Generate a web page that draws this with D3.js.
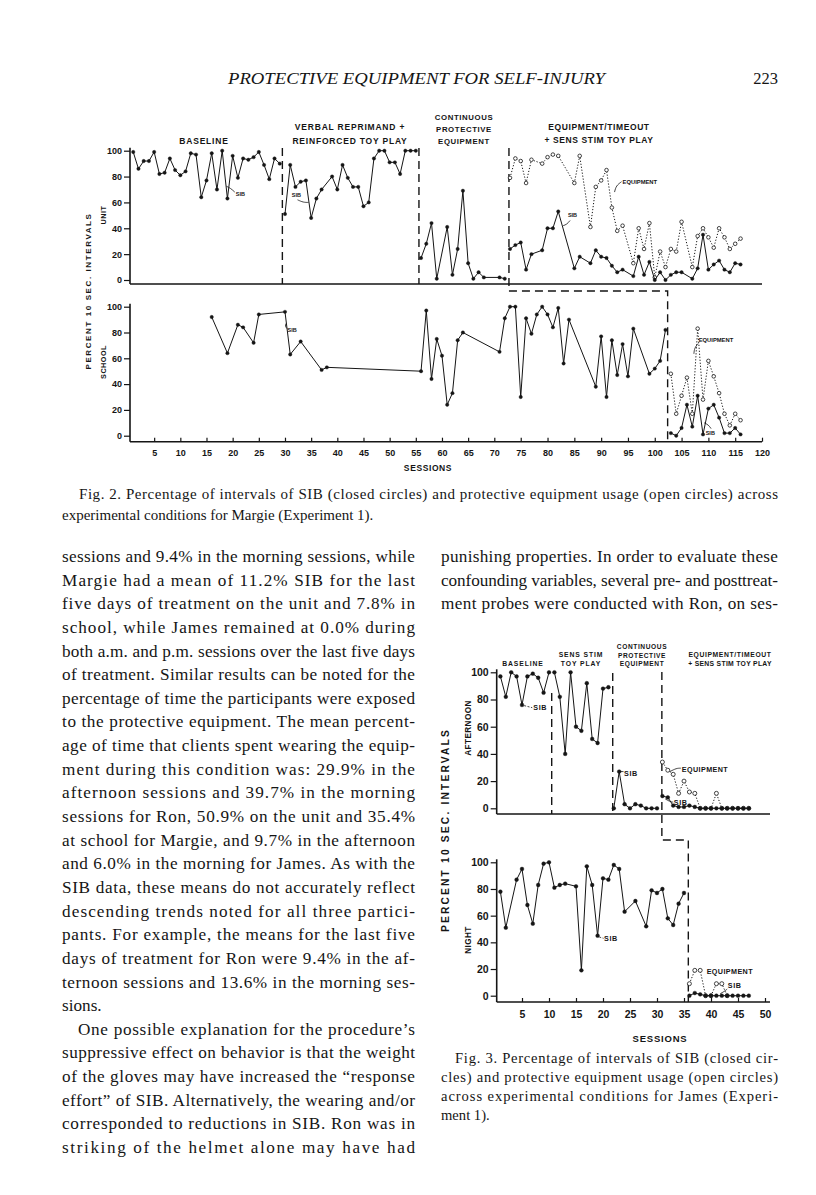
<!DOCTYPE html>
<html lang="en">
<head>
<meta charset="UTF-8">
<title>Protective Equipment for Self-Injury</title>
<script src="https://d3js.org/d3.v7.min.js"></script>
<style>
  body { margin: 0; background: #fff; }
  svg { display: block; background: #fff; }
  .lbl { font-family: "Liberation Sans", Arial, sans-serif; font-weight: bold; fill: #151515; }
  .serif { font-family: "Liberation Serif", "DejaVu Serif", serif; fill: #151515; }
  .axis path { display: none; }
  .axis line { stroke: #151515; stroke-width: 1.2; }
  .axis text { font-family: "Liberation Sans", Arial, sans-serif; font-weight: bold; fill: #151515; }
  .base { stroke: #151515; stroke-width: 1.6; }
  .phase { stroke: #151515; stroke-width: 1.4; stroke-dasharray: 8,5; fill: none; }
  .sib { stroke: #151515; stroke-width: 1; fill: none; }
  .equip { stroke: #151515; stroke-width: 1; stroke-dasharray: 1.2,1.8; fill: none; }
  .ann { stroke: #151515; stroke-width: 0.8; fill: none; }
</style>
</head>
<body>
<svg id="page" width="816" height="1195"></svg>
<script>
// ---- Fig. 2 (Margie): [session, percent]
const unitSIB = [[1,99],[2,86],[3,92],[4,92],[5,99],[6,82],[7,83],[8,94],[9,85],[10,81],[11,84],[12,98],[13,97],[14,64],[15,77],[16,98],[17,70],[18,100],[19,63],[20,96],[21,79],[22,94],[23,93],[24,95],[25,99],[26,89],[27,78],[28,94],[29,90],
  [30,51],[31,89],[32,72],[33,76],[34,77],[35,48],[36,63],[37,70],[39,80],[40,70],[41,89],[42,79],[43,72],[44,72],[45,57],[46,60],[47,94],[48,100],[49,100],[50,91],[51,91],[52,82],[53,100],[54,100],[55,100],
  [56,17],[57,28],[58,44],[59,1],[61,41],[62,4],[63,24],[64,69],[65,13],[66,1],[67,6],[68,2],[71,2],[72,1],
  [73,24],[74,27],[75,29],[76,8],[77,20],[79,23],[80,40],[81,40],[82,53],[85,9],[86,18],[88,13],[89,23],[90,18],[91,17],[92,11],[93,6],[94,8],[96,3],[97,18],[98,4],[99,14],[100,0],[101,6],[102,0],[103,4],[104,6],[105,6],[107,1],[108,9],[109,35],[110,8],[111,12],[112,15],[113,8],[114,6],[115,13],[116,12]];
const unitEquip = [[73,79],[74,94],[75,92],[76,75],[77,93],[79,90],[80,95],[81,97],[82,96],[85,75],[86,96],[88,41],[89,72],[90,77],[91,85],[92,56],[93,38],[94,42],[96,13],[97,40],[98,24],[99,44],[100,2],[101,22],[102,10],[103,24],[104,22],[105,45],[107,10],[108,34],[109,40],[110,33],[111,25],[112,40],[113,33],[114,24],[115,28],[116,32]];
const schoolSIB = [[16,92],[19,64],[21,86],[22,84],[24,72],[25,94],[30,96],[31,63],[33,73],[37,51],[38,53],[56,50],[57,97],[58,44],[59,75],[60,62],[61,24],[62,33],[63,74],[64,80],[71,65],[72,91],[73,100],[74,100],[75,30],[76,91],[77,79],[78,94],[79,100],[80,94],[81,84],[82,99],[83,56],[84,90],[89,38],[90,77],[91,30],[92,74],[93,47],[94,71],[95,46],[96,83],[99,48],[100,52],[101,58],[102,82],
  [103,2],[104,0],[105,6],[106,24],[107,7],[108,31],[109,1],[110,21],[111,24],[112,14],[113,2],[114,2],[115,6],[116,1]];
const schoolEquip = [[103,48],[104,17],[105,31],[106,45],[107,17],[108,83],[109,28],[110,58],[111,46],[112,33],[113,17],[114,8],[115,17],[116,12]];
const unitBreaks = [29.5, 55.6, 72.8];
const schoolBreaks = [102.4];
const fig2XTicks = d3.range(5, 121, 5);

// ---- Fig. 3 (James)
const pmSIB = [[1,97],[2,82],[3,100],[4,97],[5,76],[6,97],[7,99],[8,96],[9,85],[10,100],
  [11,100],[12,82],[13,40],[14,100],[15,60],[16,57],[17,92],[18,51],[19,48],[20,88],[21,89],
  [22,0],[23,27],[24,3],[25,0],[26,3],[27,2],[28,0],[29,0],[30,0],
  [31,9],[32,8],[33,2],[34,1],[35,1],[36,2],[37,1],[38,0],[39,0],[40,0],[41,0],[42,0],[43,0],[44,0],[45,0],[46,0],[47,0]];
const pmEquip = [[31,34],[32,28],[33,25],[34,11],[35,20],[36,12],[37,11],[38,0],[39,0],[40,0],[41,11],[42,0],[43,0],[44,0],[45,0],[46,0],[47,0]];
const nightSIB = [[1,78],[2,51],[4,87],[5,95],[6,68],[7,54],[8,83],[9,99],[10,100],[11,81],[12,83],[13,84],[15,82],[16,19],[17,97],[18,83],[19,45],[20,88],[21,87],[22,98],[23,95],[24,63],[26,71],[28,52],[29,79],[30,77],[31,80],[32,58],[33,53],[34,69],[35,77],
  [36,0],[37,2],[38,1],[39,0],[40,0],[41,0],[42,0],[43,0],[44,0],[45,0],[46,0],[47,0]];
const nightEquip = [[36,9],[37,19],[38,19],[39,0],[40,0],[41,9],[42,9],[43,0]];
const pmBreaks = [10.5, 21.8, 30.9];
const nightBreaks = [35.8];
const fig3XTicks = d3.range(5, 51, 5);
const yTicks = [0, 20, 40, 60, 80, 100];

// ---- page text
const leftLines = [
  "sessions and 9.4% in the morning sessions, while",
  "Margie had a mean of 11.2% SIB for the last",
  "five days of treatment on the unit and 7.8% in",
  "school, while James remained at 0.0% during",
  "both a.m. and p.m. sessions over the last five days",
  "of treatment. Similar results can be noted for the",
  "percentage of time the participants were exposed",
  "to the protective equipment. The mean percent-",
  "age of time that clients spent wearing the equip-",
  "ment during this condition was: 29.9% in the",
  "afternoon sessions and 39.7% in the morning",
  "sessions for Ron, 50.9% on the unit and 35.4%",
  "at school for Margie, and 9.7% in the afternoon",
  "and 6.0% in the morning for James. As with the",
  "SIB data, these means do not accurately reflect",
  "descending trends noted for all three partici-",
  "pants. For example, the means for the last five",
  "days of treatment for Ron were 9.4% in the af-",
  "ternoon sessions and 13.6% in the morning ses-",
  "sions.",
  "One possible explanation for the procedure\u2019s",
  "suppressive effect on behavior is that the weight",
  "of the gloves may have increased the \u201cresponse",
  "effort\u201d of SIB. Alternatively, the wearing and/or",
  "corresponded to reductions in SIB. Ron was in",
  "striking of the helmet alone may have had"
];
const rightLines = [
  "punishing properties. In order to evaluate these",
  "confounding variables, several pre- and posttreat-",
  "ment probes were conducted with Ron, on ses-"
];
const cap2Lines = [
  "Fig. 2. Percentage of intervals of SIB (closed circles) and protective equipment usage (open circles) across",
  "experimental conditions for Margie (Experiment 1)."
];
const cap3Lines = [
  "Fig. 3. Percentage of intervals of SIB (closed cir-",
  "cles) and protective equipment usage (open circles)",
  "across experimental conditions for James (Experi-",
  "ment 1)."
];

const svg = d3.select("#page");

// header
svg.append("text").attr("class", "serif").attr("x", 228).attr("y", 84)
  .attr("font-size", 16.5).attr("font-style", "italic")
  .attr("textLength", 377).attr("lengthAdjust", "spacingAndGlyphs")
  .text("PROTECTIVE EQUIPMENT FOR SELF-INJURY");
svg.append("text").attr("class", "serif").attr("x", 778).attr("y", 84)
  .attr("font-size", 16.5).attr("text-anchor", "end").text("223");

function textBlock(lines, x0, width, y0, step, size, opts) {
  const g = svg.append("g");
  lines.forEach((t, i) => {
    const indent = (opts.indent || []).includes(i) ? opts.indentSize : 0;
    const el = g.append("text").attr("class", "serif")
      .attr("x", x0 + indent).attr("y", y0 + i * step)
      .attr("font-size", size).text(t);
    if (!(opts.ragged || []).includes(i)) {
      el.attr("textLength", width - indent).attr("lengthAdjust", "spacing");
    }
  });
}
textBlock(leftLines, 62, 353, 562, 23.64, 17.2, { ragged: [19], indent: [20], indentSize: 16 });
textBlock(rightLines, 441, 337, 562, 23.64, 17.2, {});
textBlock(cap2Lines, 62, 716, 499, 20.5, 15, { ragged: [1], indent: [0], indentSize: 17 });
textBlock(cap3Lines, 441, 337, 1063, 19, 14.6, { ragged: [3], indent: [0], indentSize: 14 });

// ---- helpers
function phaseOf(s, breaks) { return breaks.filter(b => s > b).length; }

function drawSeries(g, data, breaks, x, y, kind, r) {
  const groups = d3.groups(data, d => phaseOf(d[0], breaks));
  const line = d3.line().x(d => x(d[0])).y(d => y(d[1]));
  groups.forEach(([, pts]) => {
    g.append("path").attr("class", kind === "closed" ? "sib" : "equip").attr("d", line(pts));
  });
  g.selectAll(null).data(data).enter().append("circle")
    .attr("cx", d => x(d[0])).attr("cy", d => y(d[1]))
    .attr("r", r)
    .attr("fill", kind === "closed" ? "#151515" : "#fff")
    .attr("stroke", "#151515").attr("stroke-width", kind === "closed" ? 0.4 : 0.8);
}

function yAxis(g, y, xPos, size) {
  g.append("g").attr("class", "axis").attr("transform", `translate(${xPos},0)`)
    .call(d3.axisLeft(y).tickValues(yTicks).tickSize(6).tickPadding(2))
    .selectAll("text").attr("font-size", size);
}

function rotLabel(x, y, text, size, spacing) {
  svg.append("text").attr("class", "lbl")
    .attr("transform", `translate(${x},${y}) rotate(-90)`)
    .attr("text-anchor", "middle").attr("dominant-baseline", "central")
    .attr("font-size", size).attr("letter-spacing", spacing || 0).text(text);
}

function label(x, y, text, size, anchor, spacing) {
  svg.append("text").attr("class", "lbl").attr("x", x).attr("y", y)
    .attr("text-anchor", anchor || "start").attr("font-size", size)
    .attr("letter-spacing", spacing || 0).text(text);
}

function arrow(pts, dashed) {
  svg.append("path").attr("class", "ann")
    .attr("stroke-dasharray", dashed ? "2,1.5" : null)
    .attr("d", d3.line().curve(d3.curveBasis)(pts));
}

// ======== Fig. 2 ========
const x2 = d3.scaleLinear().domain([0, 73, 120]).range([128, 510, 762]);
const yUnit = d3.scaleLinear().domain([0, 100]).range([280, 150.7]);
const ySchool = d3.scaleLinear().domain([0, 100]).range([435.7, 306.7]);
const f2 = svg.append("g");

f2.append("line").attr("class", "base").attr("x1", 130).attr("x2", 130).attr("y1", yUnit(100) - 3).attr("y2", 284);
f2.append("line").attr("class", "base").attr("x1", 130).attr("x2", 762).attr("y1", 284).attr("y2", 284);
f2.append("line").attr("class", "base").attr("x1", 130).attr("x2", 130).attr("y1", ySchool(100) - 3).attr("y2", 441.7);
f2.append("line").attr("class", "base").attr("x1", 130).attr("x2", 762).attr("y1", 441.7).attr("y2", 441.7);
yAxis(f2, yUnit, 130, 9);
yAxis(f2, ySchool, 130, 9);
f2.append("g").attr("class", "axis").attr("transform", "translate(0,441.7)")
  .call(d3.axisBottom(x2).tickValues(fig2XTicks).tickSize(-4).tickPadding(8))
  .selectAll("text").attr("font-size", 9);
label(428, 471, "SESSIONS", 8.5, "middle", 0.6);

const ph = d3.path();
ph.moveTo(x2(unitBreaks[0]), 148); ph.lineTo(x2(unitBreaks[0]), 284);
ph.moveTo(x2(unitBreaks[1]), 148); ph.lineTo(x2(unitBreaks[1]), 284);
ph.moveTo(x2(unitBreaks[2]), 148); ph.lineTo(x2(unitBreaks[2]), 291);
ph.lineTo(x2(schoolBreaks[0]), 291); ph.lineTo(x2(schoolBreaks[0]), 441.7);
f2.append("path").attr("class", "phase").attr("d", ph.toString());

drawSeries(f2, unitEquip, unitBreaks, x2, yUnit, "open", 1.8);
drawSeries(f2, unitSIB, unitBreaks, x2, yUnit, "closed", 1.7);
drawSeries(f2, schoolEquip, schoolBreaks, x2, ySchool, "open", 1.8);
drawSeries(f2, schoolSIB, schoolBreaks, x2, ySchool, "closed", 1.7);

label(204, 144, "BASELINE", 8.5, "middle", 0.8);
label(350, 130, "VERBAL REPRIMAND  +", 8.5, "middle", 0.8);
label(350, 144, "REINFORCED TOY PLAY", 8.5, "middle", 0.8);
label(464, 120, "CONTINUOUS", 7.8, "middle", 0.6);
label(464, 132, "PROTECTIVE", 7.8, "middle", 0.6);
label(464, 144, "EQUIPMENT", 7.8, "middle", 0.6);
label(599, 130, "EQUIPMENT/TIMEOUT", 8.5, "middle", 0.6);
label(599, 143, "+ SENS STIM TOY PLAY", 8.5, "middle", 0.6);

rotLabel(88, 291, "PERCENT  10  SEC.  INTERVALS", 8, 1.6);
rotLabel(103, 215, "UNIT", 7.2, 0.5);
rotLabel(103, 362, "SCHOOL", 7.2, 0.5);

label(x2(20.6), yUnit(65), "SIB", 5.5);
arrow([[x2(20.4), yUnit(68)], [x2(19.6), yUnit(71)], [x2(18.8), yUnit(72.5)]]);
label(x2(31.3), yUnit(64.5), "SIB", 5.5);
arrow([[x2(32.4), yUnit(62)], [x2(33.5), yUnit(60)], [x2(34.5), yUnit(60)]]);
label(x2(83.8), yUnit(49), "SIB", 5.5);
arrow([[x2(84.2), yUnit(46)], [x2(83.6), yUnit(43)], [x2(82.9), yUnit(42)]]);
label(x2(94), yUnit(74.5), "EQUIPMENT", 5.8);
arrow([[x2(93.8), yUnit(76)], [x2(92.8), yUnit(73)], [x2(92.5), yUnit(68)]]);
label(x2(30.5), ySchool(80.2), "SIB", 5.5);
arrow([[x2(30.4), ySchool(83)], [x2(30), ySchool(85)], [x2(30.2), ySchool(87)]]);
label(x2(108.2), ySchool(73), "EQUIPMENT", 5.8);
arrow([[x2(108.1), ySchool(71.5)], [x2(107.4), ySchool(68)], [x2(107.3), ySchool(63.5)]]);
label(x2(109.5), ySchool(0.8), "SIB", 5.5);
arrow([[x2(110.5), ySchool(5.5)], [x2(110), ySchool(8.5)], [x2(109.2), ySchool(10)]]);

// ======== Fig. 3 ========
const x3 = d3.scaleLinear().domain([0, 50]).range([495, 765]);
const yPm = d3.scaleLinear().domain([0, 100]).range([808.3, 672.3]);
const yNight = d3.scaleLinear().domain([0, 100]).range([995.7, 862.3]);
const f3 = svg.append("g");

f3.append("line").attr("class", "base").attr("x1", 496.7).attr("x2", 496.7).attr("y1", yPm(100) - 3).attr("y2", 814);
f3.append("line").attr("class", "base").attr("x1", 496.7).attr("x2", 770).attr("y1", 814).attr("y2", 814);
f3.append("line").attr("class", "base").attr("x1", 496.7).attr("x2", 496.7).attr("y1", yNight(100) - 3).attr("y2", 1002);
f3.append("line").attr("class", "base").attr("x1", 496.7).attr("x2", 770).attr("y1", 1002).attr("y2", 1002);
yAxis(f3, yPm, 496.7, 10.5);
yAxis(f3, yNight, 496.7, 10.5);
f3.append("g").attr("class", "axis").attr("transform", "translate(0,1002)")
  .call(d3.axisBottom(x3).tickValues(fig3XTicks).tickSize(-4).tickPadding(9))
  .selectAll("text").attr("font-size", 10.5);
label(660, 1042, "SESSIONS", 9.5, "middle", 0.8);

const ph3 = d3.path();
ph3.moveTo(x3(pmBreaks[0]), 693); ph3.lineTo(x3(pmBreaks[0]), 814);
ph3.moveTo(x3(pmBreaks[1]), 673); ph3.lineTo(x3(pmBreaks[1]), 814);
ph3.moveTo(x3(pmBreaks[2]), 672); ph3.lineTo(x3(pmBreaks[2]), 840);
ph3.lineTo(x3(nightBreaks[0]), 840); ph3.lineTo(x3(nightBreaks[0]), 1002);
f3.append("path").attr("class", "phase").attr("stroke-width", 1.8).attr("d", ph3.toString());

drawSeries(f3, pmEquip, pmBreaks, x3, yPm, "open", 2);
drawSeries(f3, pmSIB, pmBreaks, x3, yPm, "closed", 1.9);
drawSeries(f3, nightEquip, nightBreaks, x3, yNight, "open", 2);
drawSeries(f3, nightSIB, nightBreaks, x3, yNight, "closed", 1.9);

label(523, 666, "BASELINE", 6.8, "middle", 0.9);
label(581, 657, "SENS STIM", 6.8, "middle", 0.9);
label(581, 666, "TOY PLAY", 6.8, "middle", 0.9);
label(642, 649, "CONTINUOUS", 6.6, "middle", 0.6);
label(642, 657.5, "PROTECTIVE", 6.6, "middle", 0.6);
label(642, 666, "EQUIPMENT", 6.6, "middle", 0.6);
label(730, 657, "EQUIPMENT/TIMEOUT", 6.8, "middle", 0.6);
label(730, 666, "+   SENS STIM TOY PLAY", 6.8, "middle", 0.3);

rotLabel(445, 830, "PERCENT  10  SEC.  INTERVALS", 10.2, 2.2);
rotLabel(468, 728, "AFTERNOON", 8.2, 0.4);
rotLabel(468, 940, "NIGHT", 8.2, 0.4);

label(x3(7.1), yPm(72), "SIB", 7.2, "start", 0.6);
arrow([[x3(5.4), yPm(75.5)], [x3(6.9), yPm(74)]], true);
label(x3(23.9), yPm(24), "SIB", 7.2, "start", 0.6);
arrow([[x3(23.2), yPm(27)], [x3(23.8), yPm(27)]]);
label(x3(34.6), yPm(27), "EQUIPMENT", 7.2, "start", 0.4);
arrow([[x3(32.4), yPm(27)], [x3(33.6), yPm(29.5)], [x3(34.4), yPm(29.5)]]);
label(x3(33.1), yPm(2.2), "SIB", 7.2, "start", 0.6);
arrow([[x3(31.5), yPm(7)], [x3(32.3), yPm(5)], [x3(33), yPm(4.5)]]);
label(x3(20.2), yNight(41), "SIB", 7.2, "start", 0.6);
arrow([[x3(19.3), yNight(44)], [x3(20.1), yNight(43)]], true);
label(x3(39.2), yNight(16.5), "EQUIPMENT", 7.2, "start", 0.4);
label(x3(43.1), yNight(6), "SIB", 7.2, "start", 0.6);
arrow([[x3(43), yNight(5)], [x3(42.4), yNight(3)], [x3(41.7), yNight(1.5)]]);
</script>
</body>
</html>
